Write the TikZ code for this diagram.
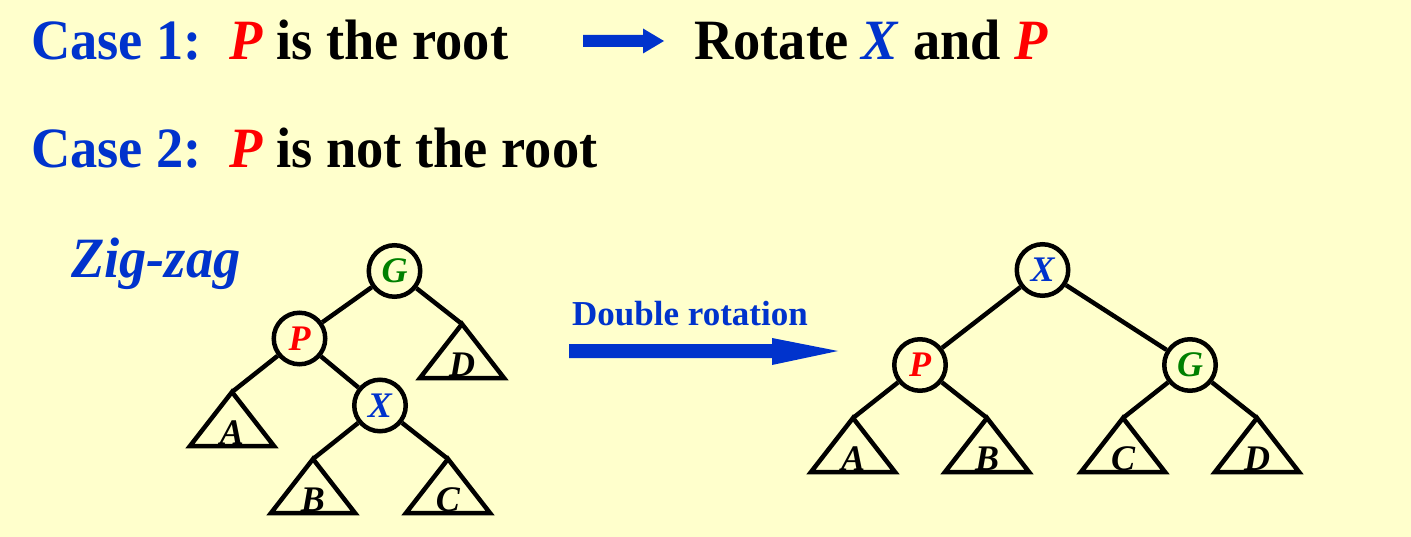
\documentclass[tikz,border=0pt]{standalone}
\usepackage{fontspec}
\setmainfont{Liberation Serif}
\newfontfamily\headfont{Liberation Serif}[FakeStretch=0.955]
\definecolor{slidebg}{RGB}{255,255,204}
\definecolor{caseblue}{RGB}{0,51,204}
\definecolor{keygreen}{RGB}{0,128,0}
\tikzset{
	headline/.style={anchor=base west, inner sep=0pt, font=\headfont\fontsize{57}{62}\selectfont\bfseries},
	treenode/.style={circle, draw, line width=4.5pt, minimum size=51.5pt, inner sep=0pt, font=\fontsize{36}{40}\selectfont\bfseries\itshape},
	subtree/.style={line width=4.5pt},
	leaf/.style={anchor=base, inner sep=0pt, font=\fontsize{36}{40}\selectfont\bfseries\itshape},
	branch/.style={line width=4.5pt}
}
\begin{document}
\begin{tikzpicture}[x=1pt, y=-1pt]
		\fill[slidebg] (0,0) rectangle (1411,537);
		\useasboundingbox (0,0) rectangle (1411,537);
		
		% Case lines
		\node[headline] (case1) at (31,60) {{\color{caseblue}Case 1:}\ \ {\color{red}\textit{P}} is the root};
		\coordinate (go1) at (583,41);
		\coordinate (go2) at (664,41);
		\fill[caseblue] (go1) ++(0,-6) -- ++(60,0) -- ++(0,-6.5) -- (go2) -- ++(-21,12.5) -- ++(0,-6.5) -- ++(-60,0) -- cycle;
		\node[headline] (rotate) at (694,60) {Rotate {\color{caseblue}\textit{X}} and {\color{red}\textit{P}}};
		\node[headline] (case2) at (31,168) {{\color{caseblue}Case 2:}\ \ {\color{red}\textit{P}} is not the root};
		\node[headline, text=caseblue] (zigzag) at (71,278) {\textit{Zig-zag}};
		
		% Subtrees
		\foreach \t/\x/\y/\l in {A1/232/392/A, B1/313/459/B, C1/448/459/C, D1/462/324/D,
			A2/853/418/A, B2/987/418/B, C2/1123/418/C, D2/1257/418/D} {
			\coordinate (t\t) at (\x,\y);
			\draw[subtree] (t\t) -- ++(-42,54) -- ++(84,0) -- cycle;
			\node[leaf] (l\t) at (\x,\y+52) {\l};
		}
		
		% Before
		\node[treenode, text=keygreen] (G1) at (394.5,271) {G};
		\node[treenode, text=red] (P1) at (299.5,338.5) {P};
		\node[treenode, text=caseblue] (X1) at (380,405.5) {X};
		\draw[branch] (G1) -- (P1);
		\draw[branch] (G1) -- (tD1);
		\draw[branch] (P1) -- (tA1);
		\draw[branch] (P1) -- (X1);
		\draw[branch] (X1) -- (tB1);
		\draw[branch] (X1) -- (tC1);
		
		% Double rotation
		\node[anchor=base west, inner sep=0pt, text=caseblue, font=\fontsize{35}{40}\selectfont\bfseries] (dbl) at (572,326) {Double rotation};
		\coordinate (dr1) at (569,351);
		\coordinate (dr2) at (838,351);
		\fill[caseblue] (dr1) ++(0,-7) -- ++(203,0) -- ++(0,-6) -- (dr2) -- ++(-66,14) -- ++(0,-7) -- ++(-203,0) -- cycle;
		
		% After
		\node[treenode, text=caseblue] (X2) at (1042.5,270) {X};
		\node[treenode, text=red] (P2) at (920,365) {P};
		\node[treenode, text=keygreen] (G2) at (1190,365) {G};
		\draw[branch] (X2) -- (P2);
		\draw[branch] (X2) -- (G2);
		\draw[branch] (P2) -- (tA2);
		\draw[branch] (P2) -- (tB2);
		\draw[branch] (G2) -- (tC2);
		\draw[branch] (G2) -- (tD2);
\end{tikzpicture}
\end{document}
